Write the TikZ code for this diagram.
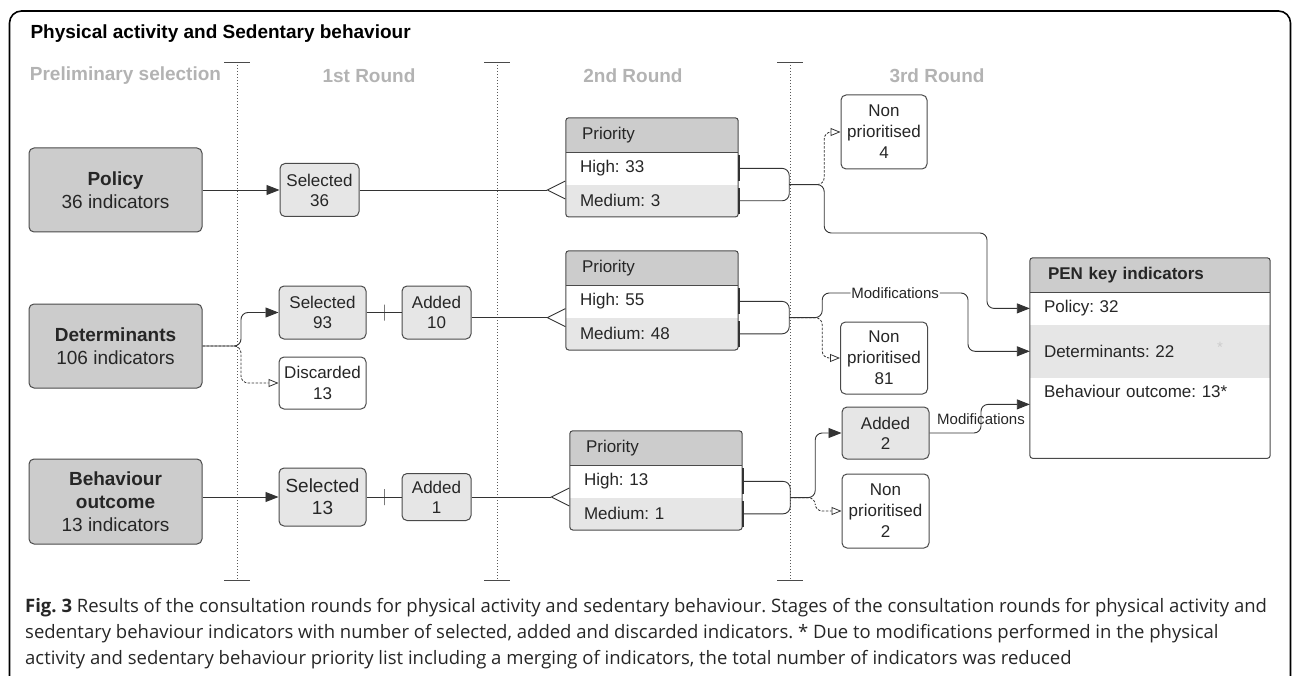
\documentclass[tikz,border=0pt]{standalone}
\usepackage{fontspec}
\setmainfont{Liberation Sans}
\newfontfamily\capfont{Open Sans}
\usetikzlibrary{positioning,arrows.meta}
\frenchspacing

\definecolor{boxdark}{HTML}{CCCCCC}
\definecolor{boxlight}{HTML}{E6E6E6}
\definecolor{boxline}{HTML}{4A4A4A}
\definecolor{headgray}{HTML}{B3B3B3}
\definecolor{inkgray}{HTML}{262626}
\newcommand{\pxfont}[2]{\fontsize{#1}{#2}\selectfont}

\tikzset{
  catbox/.style={draw=boxline, line width=1pt, fill=boxdark, rounded corners=5pt, align=center,
    minimum width=173pt, minimum height=84pt, text=inkgray, font=\pxfont{19}{23}},
  selbox/.style={draw=boxline, line width=1pt, fill=boxlight, rounded corners=5pt, align=center,
    inner sep=1pt, minimum height=53pt, text=inkgray, font=\pxfont{17}{20}},
  offbox/.style={selbox, fill=white, font=\pxfont{17}{21}},
  prhead/.style={fill=boxdark, minimum height=34pt, text width=140pt, inner xsep=16pt,
    inner ysep=2pt, align=left, text=inkgray, font=\pxfont{17}{20}},
  prrow/.style={fill=white, minimum height=32pt, text width=144pt, inner xsep=14pt,
    inner ysep=2pt, align=left, text=inkgray, font=\pxfont{17}{20}},
  tabframe/.style={draw=boxline, line width=1pt, rounded corners=3pt},
  colhead/.style={text=headgray, font=\pxfont{19}{22}\bfseries},
  sepline/.style={draw=black!65, dash pattern=on 1pt off 2pt, line width=0.7pt},
  link/.style={draw=black!80, line width=0.9pt},
  flow/.style={link, rounded corners=7pt, -{Triangle[length=13pt,width=10pt]}},
  skip/.style={link, line width=0.8pt, rounded corners=7pt, dash pattern=on 2.5pt off 1.5pt,
    -{Triangle[open,length=10pt,width=8pt,fill=white]}},
  crow/.style={link, -{Straight Barb[reversed,length=18pt,width=18pt]}},
  rowtie/.style={link, rounded corners=7pt, {Bar[width=26pt,line width=1.6pt]}-},
  onebar/.style={draw=black!80, line width=0.9pt, minimum width=0pt, minimum height=16pt, inner sep=0pt},
  modtag/.style={inner sep=1pt, text=inkgray, font=\pxfont{15}{18}}
}

\begin{document}
\begin{tikzpicture}[x=1pt, y=-1pt]
  \useasboundingbox (0,0) rectangle (1292,676);
  \draw[line width=1.6pt, rounded corners=12pt]
    (9.5,676) -- (9.5,11) -- (1290.5,11) -- (1290.5,676);

  \node[anchor=west, font=\pxfont{19}{22}\bfseries] (title) at (27,34)
    {Physical activity and Sedentary behaviour};

  % round headers
  \node[colhead] (h0) at (125.5,76) {Preliminary selection};
  \node[colhead] (h1) at (369,76) {1st Round};
  \node[colhead] (h2) at (633,76) {2nd Round};
  \node[colhead] (h3) at (937,76) {3rd Round};

  \foreach \xc in {237,497,790} {
    \draw[sepline] (\xc,62) -- (\xc,580);
    \draw[boxline, line width=0.9pt] (\xc-13,62) -- (\xc+13,62) (\xc-13,580) -- (\xc+13,580);
  }

  % preliminary selection
  \node[catbox] (pol) at (115.5,190) {\textbf{Policy}\\36 indicators};
  \node[catbox] (det) at (115.5,346) {\textbf{Determinants}\\106 indicators};
  \node[catbox, minimum height=85pt] (beh) at (115.5,501.5)
    {\textbf{Behaviour}\\\textbf{outcome}\\13 indicators};

  % 1st round
  \node[selbox, minimum width=79pt, right=77pt of pol] (sel36) {Selected\\36};
  \node[selbox, minimum width=87pt] (sel93) at (322.5,312.5) {Selected\\93};
  \node[offbox, minimum width=87pt, minimum height=52pt, below=17pt of sel93] (dis13) {Discarded\\13};
  \node[selbox, minimum width=69pt, right=35pt of sel93] (add10) {Added\\10};
  \node[selbox, minimum width=87pt, minimum height=58pt, font=\pxfont{19}{22}] (sel13) at (322.5,497) {Selected\\13};
  \node[selbox, minimum width=69pt, minimum height=47pt, right=35pt of sel13] (add1) {Added\\1};

  % 2nd round
  \node[prhead] (pr1) at (652,135) {Priority};
  \node[prrow, below=0pt of pr1] (pr1hi) {High: 33};
  \node[prrow, fill=boxlight, below=0pt of pr1hi] (pr1me) {Medium: 3};
  \draw[tabframe] (pr1.north west) rectangle (pr1me.south east);
  \draw[boxline, line width=0.8pt] (pr1.south west) -- (pr1.south east);

  \node[prhead] (pr2) at (652,268) {Priority};
  \node[prrow, below=0pt of pr2] (pr2hi) {High: 55};
  \node[prrow, fill=boxlight, below=0pt of pr2hi] (pr2me) {Medium: 48};
  \draw[tabframe] (pr2.north west) rectangle (pr2me.south east);
  \draw[boxline, line width=0.8pt] (pr2.south west) -- (pr2.south east);

  \node[prhead] (pr3) at (656,448) {Priority};
  \node[prrow, below=0pt of pr3] (pr3hi) {High: 13};
  \node[prrow, fill=boxlight, below=0pt of pr3hi] (pr3me) {Medium: 1};
  \draw[tabframe] (pr3.north west) rectangle (pr3me.south east);
  \draw[boxline, line width=0.8pt] (pr3.south west) -- (pr3.south east);

  % 3rd round
  \node[offbox, minimum width=86pt, minimum height=74pt] (np4) at (884,132) {Non\\prioritised\\4};
  \node[offbox, minimum width=87pt, minimum height=72pt] (np81) at (884,358) {Non\\prioritised\\81};
  \node[selbox, minimum width=87pt, minimum height=52pt] (add2) at (885.5,433) {Added\\2};
  \node[offbox, minimum width=87pt, minimum height=74pt] (np2) at (885.5,511) {Non\\prioritised\\2};

  % key indicators
  \node[prhead, text width=204pt, inner xsep=18pt, font=\pxfont{17}{20}\bfseries] (pen) at (1150,275) {PEN key indicators};
  \node[prrow, text width=212pt, below=0pt of pen] (penp) {Policy: 32};
  \node[prrow, text width=212pt, minimum height=53pt, fill=boxlight, below=0pt of penp] (pend) {Determinants: 22};
  \node[prrow, text width=212pt, minimum height=26pt, below=0pt of pend] (penb) {Behaviour outcome: 13*};
  \node[text=boxdark, font=\pxfont{15}{18}] (penstar) at (1220,347) {*};
  \draw[tabframe] (pen.north west) rectangle ([yshift=-54pt]penb.south east);
  \draw[boxline, line width=0.8pt] (pen.south west) -- (pen.south east);

  % preliminary -> 1st round
  \draw[flow] (pol) -- (sel36);
  \draw[flow] (det.east) -- (241,346) |- (sel93.west);
  \draw[skip] (det.east) -- (241,346) |- (dis13.west);
  \draw[flow] (beh.east |- sel13.west) -- (sel13.west);
  \draw[link] (sel93) -- node[onebar]{} (add10);
  \draw[link] (sel13.east) -- node[onebar]{} (sel13.east -| add1.west);

  % 1st -> 2nd round
  \draw[crow] (sel36.east) -- (sel36.east -| pr1.west);
  \draw[crow] (add10.east |- pr2hi.south) -- (pr2hi.south west);
  \draw[crow] (add1.east) -- (add1.east -| pr3.west);

  % 2nd -> 3rd round
  \coordinate[right=51pt of pr1hi.south east] (m1);
  \coordinate[right=35pt of m1] (b1);
  \draw[rowtie] (pr1hi.east) -| (m1);
  \draw[rowtie] (pr1me.east) -| (m1);
  \draw[skip] (m1) -- (b1) |- (np4.west);
  \draw[flow] (m1) -- (b1) |- (987,233) |- (penp.west);

  \coordinate[right=51pt of pr2hi.south east] (m2);
  \coordinate[right=33pt of m2] (b2);
  \draw[rowtie] (pr2hi.east) -| (m2);
  \draw[rowtie] (pr2me.east) -| (m2);
  \draw[flow] (m2) -- (b2) |- node[pos=0.75, modtag, fill=white]{Modifications} (968,293) |- (pend.west);
  \draw[skip] (m2) -- (b2) |- (np81.west);

  \coordinate[right=48pt of pr3hi.south east] (m3);
  \coordinate[right=25pt of m3] (b3);
  \draw[rowtie] (pr3hi.east) -| (m3);
  \draw[rowtie] (pr3me.east) -| (m3);
  \draw[flow] (m3) -- (b3) |- (add2.west);
  \draw[skip] (m3) -- (b3) |- (np2.west);
  \draw[flow] (add2.east) -- (981,433) |- node[pos=0.25, modtag]{Modifications} (penb.south west);

  % caption
  \node[anchor=west, align=left, inner sep=0pt, text=inkgray, font=\capfont\pxfont{18.5}{25.7}] (cap) at (25,633.5)
    {\textbf{Fig. 3} Results of the consultation rounds for physical activity and sedentary behaviour. Stages of the consultation rounds for physical activity and\\
     sedentary behaviour indicators with number of selected, added and discarded indicators. * Due to modifications performed in the physical\\
     activity and sedentary behaviour priority list including a merging of indicators, the total number of indicators was reduced};
\end{tikzpicture}
\end{document}
